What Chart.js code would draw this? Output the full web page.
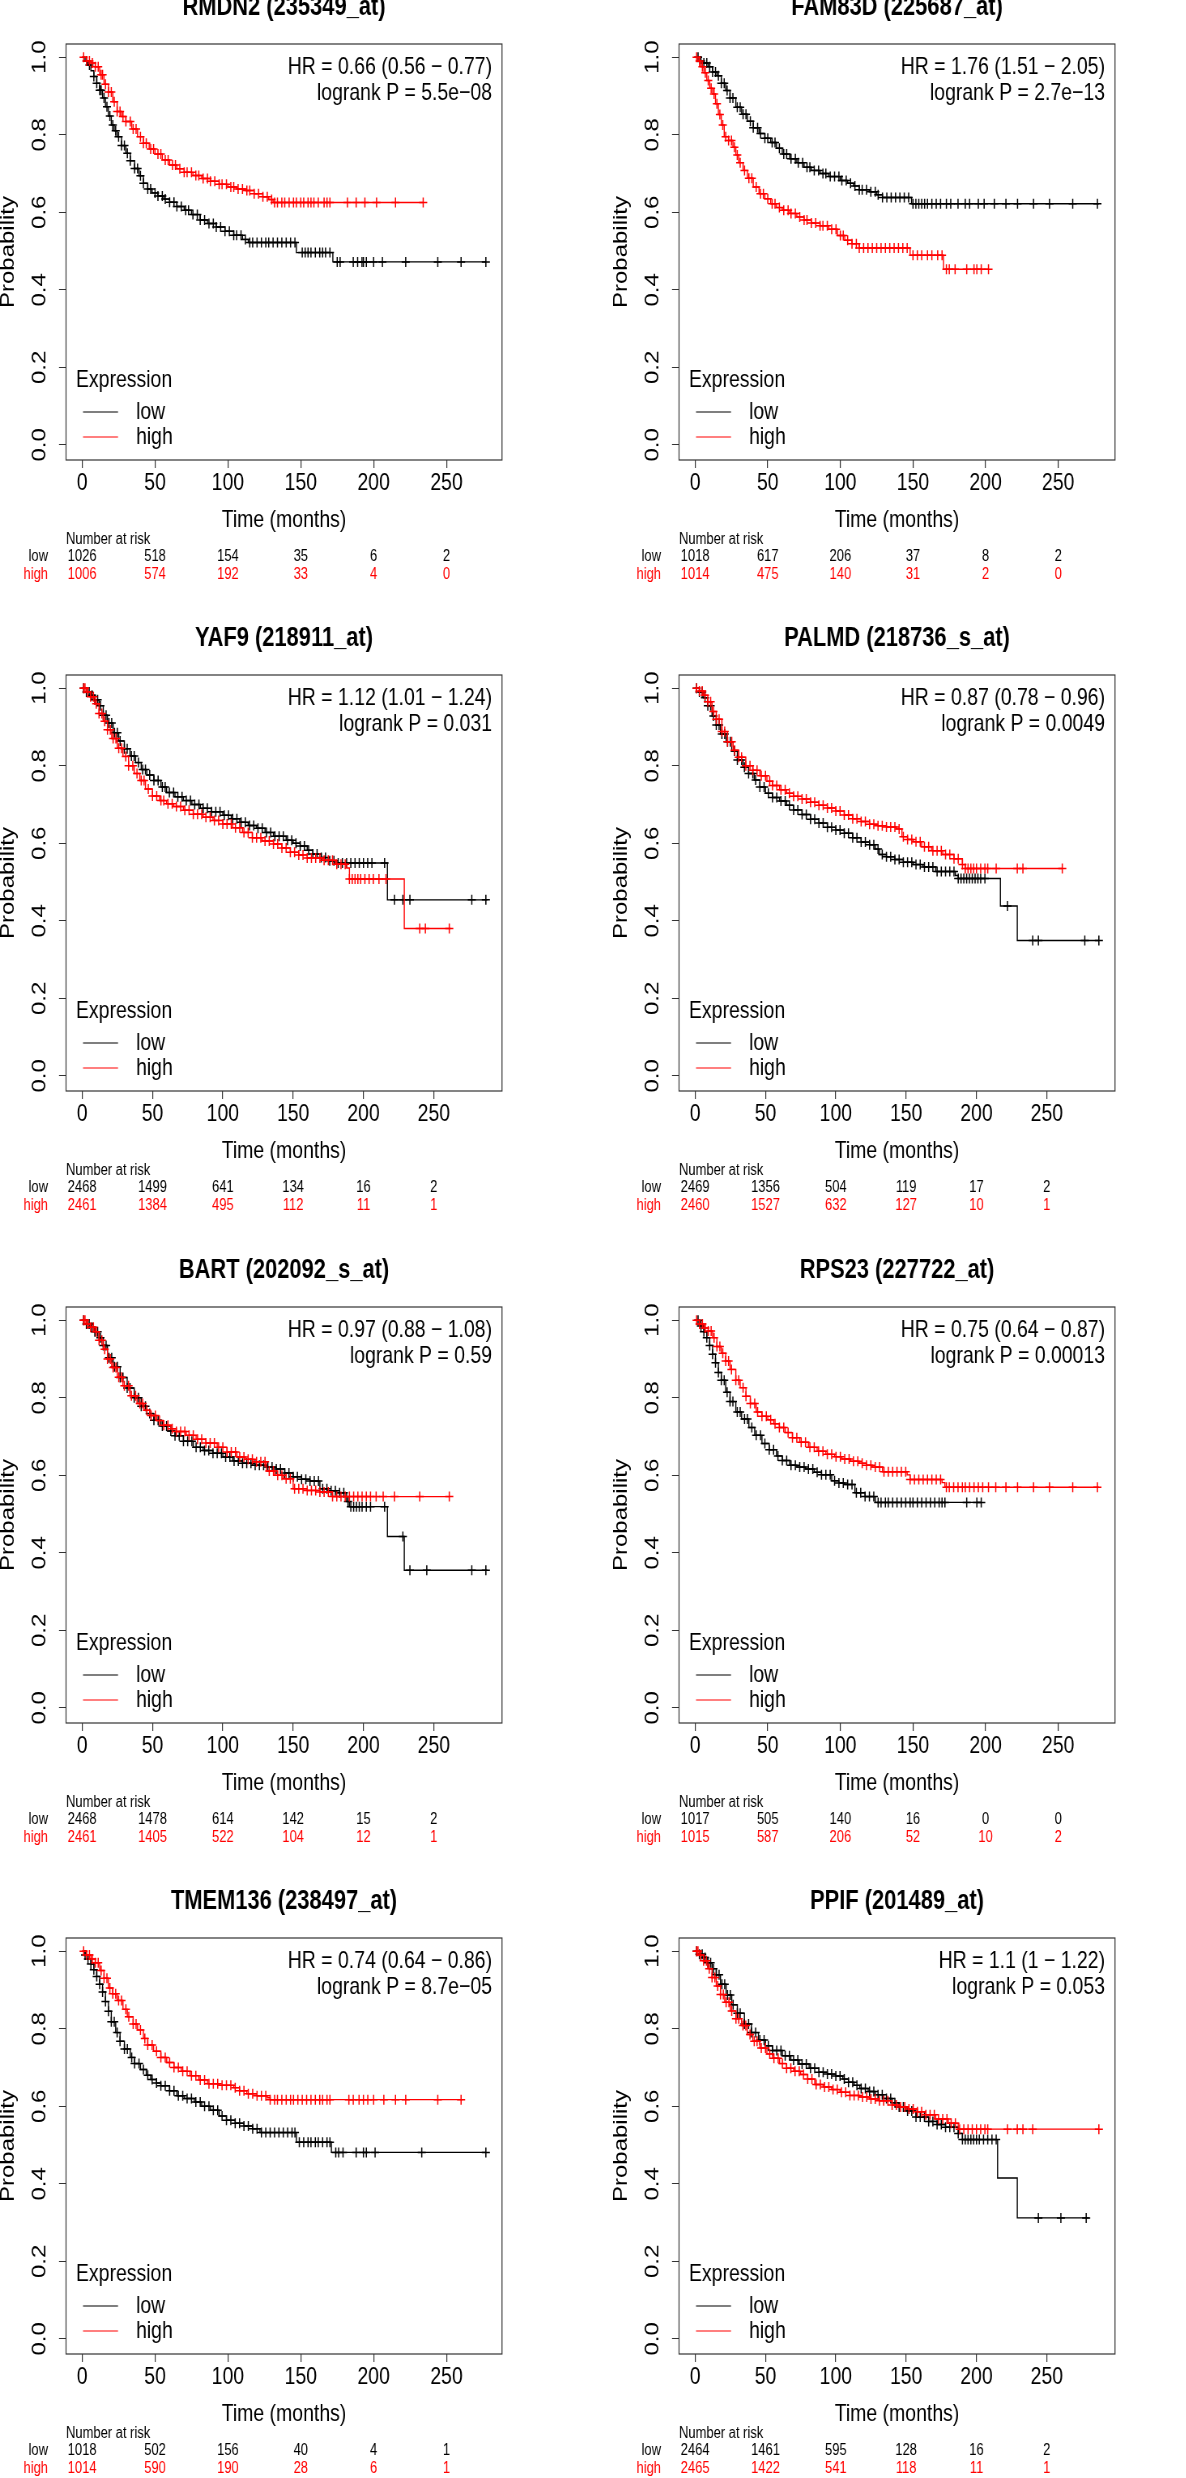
<!DOCTYPE html>
<html>
<head>
<meta charset="utf-8">
<script src="https://cdn.jsdelivr.net/npm/chart.js@4.4.1/dist/chart.umd.min.js"></script>
<style>
  html, body { margin: 0; padding: 0; background: #fff; }
  body { width: 1186px; height: 2478px; position: relative; overflow: hidden; }
  .panel { position: absolute; width: 573px; height: 600px; }
  .panel canvas { position: absolute; left: 0; top: 0; transform-origin: 0 0; transform: scaleX(0.81); }
</style>
</head>
<body>
<script>
// ---- data ----
var riskTimes = [0, 50, 100, 150, 200, 250];   // also the x tick labels
var probTicks = [0, 0.2, 0.4, 0.6, 0.8, 1.0];

// RMDN2 (235349_at)
var rmdn2LowT = [0,2,4,6,8,10,12,14,16,18,20,22,24,27,30,33,36,39,42,45,48,52,56,60,65,70,75,81,86,92,98,104,110,114,147,172,277];
var rmdn2LowS = [1,.99,.98,.965,.95,.933,.915,.895,.872,.848,.825,.81,.795,.772,.752,.733,.713,.694,.675,.66,.65,.642,.634,.626,.615,.605,.594,.58,.571,.562,.551,.541,.53,.522,.496,.472,.472];
var rmdn2LowC = [3,5,8,10,12,13,15,17,19,21,23,25,27,29,31,33,36,38,40,42,45,47,50,52,55,57,60,63,65,68,71,73,76,79,81,84,87,90,92,95,98,101,104,106,109,112,115,117,120,123,126,128,131,134,137,140,143,146,151,153,155,157,160,163,165,167,170,175,177,186,189,192,193,195,200,206,222,244,260,277];
var rmdn2HighT = [0,3,6,9,12,15,18,21,24,27,30,34,38,42,46,50,55,60,65,70,76,82,88,94,100,106,112,118,124,128,131,234];
var rmdn2HighS = [1,.99,.985,.975,.955,.93,.91,.885,.86,.847,.834,.815,.795,.778,.763,.75,.735,.722,.712,.703,.695,.687,.68,.672,.665,.66,.656,.648,.64,.633,.625,.625];
var rmdn2HighC = [1,3,5,7,9,11,13,14,16,18,20,22,24,26,28,30,33,35,37,40,42,44,47,49,52,54,57,59,62,64,67,70,72,75,78,80,83,86,88,91,94,96,99,102,104,107,110,113,115,118,121,124,127,130,132,134,137,139,142,145,147,150,152,155,157,159,162,166,168,170,182,188,194,202,215,234];
var rmdn2RiskLow = [1026, 518, 154, 35, 6, 2];
var rmdn2RiskHigh = [1006, 574, 192, 33, 4, 0];

// FAM83D (225687_at)
var fam83dLowT = [0,3,6,9,12,15,18,21,24,28,32,36,40,44,48,52,56,60,65,70,75,80,86,92,100,105,109,113,120,125,129,149,278];
var fam83dLowS = [1,.99,.985,.975,.962,.952,.933,.914,.895,.871,.853,.835,.818,.803,.791,.78,.765,.75,.738,.728,.716,.708,.7,.692,.682,.675,.668,.658,.653,.645,.638,.622,.622];
var fam83dLowC = [2,4,6,8,10,12,14,16,18,20,22,24,26,29,31,33,35,38,40,43,45,48,50,53,55,58,61,63,66,69,71,74,77,79,82,85,88,90,93,96,99,101,104,107,110,113,115,118,121,124,126,129,132,135,138,141,144,147,150,152,154,156,158,160,163,166,169,173,176,181,186,189,195,199,206,214,222,233,244,260,277];
var fam83dHighT = [0,2,4,6,8,10,12,14,16,18,20,23,26,28,30,33,36,40,44,48,52,56,60,65,70,75,80,86,92,98,103,108,113,148,171,202];
var fam83dHighS = [1,.99,.975,.96,.94,.92,.905,.88,.852,.825,.795,.785,.768,.748,.728,.708,.688,.665,.648,.635,.622,.612,.605,.597,.588,.58,.572,.565,.556,.54,.528,.519,.508,.489,.453,.453];
var fam83dHighC = [1,3,5,7,9,11,13,15,17,19,21,23,25,27,29,31,34,37,39,42,45,47,50,53,55,58,61,64,66,69,72,75,77,80,83,86,88,91,94,97,100,102,105,108,111,113,116,119,122,125,128,131,134,137,140,143,146,150,153,156,160,163,167,170,173,175,179,187,192,194,197,202];
var fam83dRiskLow = [1018, 617, 206, 37, 8, 2];
var fam83dRiskHigh = [1014, 475, 140, 31, 2, 0];

// YAF9 (218911_at)
var yaf9LowT = [0,3,6,9,12,15,18,22,26,30,34,38,42,46,51,56,60,66,72,78,84,92,100,106,112,118,124,130,136,145,150,155,160,164,170,175,181,217,288];
var yaf9LowS = [1,.99,.982,.97,.955,.93,.91,.885,.864,.844,.825,.808,.79,.776,.762,.745,.731,.72,.71,.7,.69,.681,.672,.663,.654,.646,.639,.628,.618,.608,.6,.593,.582,.572,.563,.555,.549,.454,.454];
var yaf9LowC = [1,3,5,7,9,11,13,15,17,19,21,23,25,27,30,32,35,37,40,43,45,48,51,54,57,59,62,65,68,71,74,77,80,83,86,89,92,95,98,101,104,107,110,113,116,119,122,125,128,131,134,137,140,143,146,149,152,155,158,161,164,167,170,173,176,179,182,185,188,191,194,197,200,203,206,215,222,228,233,277,287];
var yaf9HighT = [0,3,6,9,12,15,18,21,25,29,33,37,41,45,50,55,60,65,72,79,86,93,100,107,114,121,128,136,142,148,154,160,171,180,188,190,229,262];
var yaf9HighS = [1,.99,.978,.96,.935,.915,.893,.87,.845,.824,.8,.78,.762,.74,.722,.71,.702,.695,.685,.675,.667,.659,.65,.64,.628,.614,.606,.598,.588,.577,.57,.562,.556,.546,.536,.508,.38,.38];
var yaf9HighC = [1,2,4,6,8,10,12,14,16,18,20,22,24,26,28,31,33,36,39,42,44,47,50,53,56,58,61,64,67,70,73,76,79,82,85,88,91,94,97,100,103,106,109,112,115,118,121,124,127,130,133,136,139,142,145,148,151,154,157,160,163,166,169,172,175,178,181,184,187,190,192,194,196,198,201,204,207,211,216,240,244,261];
var yaf9RiskLow = [2468, 1499, 641, 134, 16, 2];
var yaf9RiskHigh = [2461, 1384, 495, 112, 11, 1];

// PALMD (218736_s_at)
var palmdLowT = [0,3,6,9,12,15,18,22,26,30,34,38,42,46,50,55,60,65,70,76,82,88,94,100,106,112,118,124,128,131,136,142,148,155,162,171,185,187,217,229,287];
var palmdLowS = [1,.99,.975,.955,.928,.905,.882,.862,.838,.815,.796,.78,.763,.745,.729,.718,.709,.698,.686,.674,.662,.652,.641,.634,.626,.614,.603,.596,.585,.571,.565,.558,.551,.545,.539,.527,.517,.509,.438,.349,.349];
var palmdLowC = [1,3,5,7,9,11,13,15,17,19,21,23,25,28,30,33,35,38,41,43,46,49,52,55,58,61,64,67,70,73,76,79,82,85,88,91,94,97,100,103,106,109,112,115,118,121,124,127,130,133,136,139,142,145,148,151,154,157,160,163,166,169,172,175,178,181,184,187,189,191,193,195,197,199,201,203,206,222,240,244,277,287];
var palmdHighT = [0,3,6,9,12,15,19,23,27,31,36,41,46,51,55,60,65,70,76,82,88,94,100,106,112,118,124,130,136,143,147,151,155,161,168,176,184,190,192,261];
var palmdHighS = [1,.993,.982,.965,.94,.92,.888,.862,.84,.822,.8,.788,.774,.76,.749,.738,.729,.721,.714,.706,.698,.691,.683,.673,.663,.656,.649,.645,.642,.637,.617,.61,.604,.591,.581,.571,.56,.545,.535,.535];
var palmdHighC = [1,3,5,7,9,11,13,15,17,19,21,23,26,28,31,33,36,39,41,44,47,50,53,55,58,61,64,67,70,73,76,79,82,85,88,91,94,97,100,103,106,109,112,115,118,121,124,127,130,133,136,139,142,145,148,151,154,157,160,163,166,169,172,175,178,181,184,187,190,192,194,196,198,200,203,206,208,214,229,233,261];
var palmdRiskLow = [2469, 1356, 504, 119, 17, 2];
var palmdRiskHigh = [2460, 1527, 632, 127, 10, 1];

// BART (202092_s_at)
var bartLowT = [0,3,6,9,12,15,18,22,27,32,37,42,46,51,56,61,66,72,79,86,93,100,107,114,121,131,138,144,150,156,162,169,175,181,188,190,217,229,288];
var bartLowS = [1,.99,.982,.97,.955,.935,.903,.88,.852,.825,.8,.778,.759,.742,.727,.714,.702,.688,.672,.664,.657,.647,.637,.631,.626,.621,.616,.606,.596,.59,.585,.565,.56,.555,.532,.519,.442,.355,.355];
var bartLowC = [1,3,5,7,9,11,13,15,17,19,21,23,25,27,29,32,34,37,40,42,45,48,51,54,57,60,63,66,69,72,75,78,81,84,87,90,93,96,99,102,105,108,111,114,117,120,123,126,129,132,135,138,141,144,147,150,153,156,159,162,165,168,171,174,177,180,183,186,189,191,193,195,197,199,202,205,215,228,233,245,277,287];
var bartHighT = [0,3,6,9,12,15,18,21,25,29,34,39,44,48,53,58,63,67,74,81,88,96,103,110,116,122,131,137,143,150,160,169,178,261];
var bartHighS = [1,.99,.982,.97,.948,.925,.9,.878,.853,.831,.805,.785,.768,.754,.741,.729,.72,.713,.703,.693,.683,.672,.66,.647,.641,.635,.611,.6,.591,.565,.561,.557,.545,.545];
var bartHighC = [1,2,4,6,8,10,12,14,16,18,20,22,24,26,28,30,33,35,38,41,43,46,49,52,55,58,61,64,67,70,73,76,79,82,85,88,91,94,97,100,103,106,109,112,115,118,121,124,127,130,133,136,139,142,145,148,151,154,157,160,163,166,169,172,175,178,181,184,187,190,193,196,199,202,205,209,214,222,240,261];
var bartRiskLow = [2468, 1478, 614, 142, 15, 2];
var bartRiskHigh = [2461, 1405, 522, 104, 12, 1];

// RPS23 (227722_at)
var rps23LowT = [0,3,6,8,10,12,14,16,18,21,24,28,32,37,41,46,51,56,60,65,70,76,82,87,94,99,103,110,117,124,197];
var rps23LowS = [1,.985,.97,.955,.935,.912,.89,.865,.845,.814,.79,.763,.745,.723,.703,.682,.666,.65,.638,.626,.621,.616,.608,.601,.586,.58,.576,.555,.545,.53,.53];
var rps23LowC = [2,4,6,8,10,12,14,16,18,20,22,24,26,29,31,34,36,39,42,45,48,51,54,57,60,63,66,69,72,75,78,81,84,87,90,93,96,99,102,105,108,111,114,117,120,123,126,128,131,133,136,139,142,145,148,150,153,156,159,162,165,168,170,172,187,194,197];
var rps23HighT = [0,3,6,9,12,15,18,21,24,28,31,35,38,42,46,50,54,58,62,67,72,78,84,90,96,101,107,113,118,122,129,146,148,170,172,278];
var rps23HighS = [1,.99,.98,.972,.955,.932,.915,.895,.873,.845,.826,.804,.785,.763,.752,.743,.733,.723,.71,.697,.685,.672,.662,.654,.648,.642,.636,.631,.626,.621,.609,.601,.589,.581,.569,.569];
var rps23HighC = [1,3,5,7,9,11,13,15,17,19,21,23,25,28,30,33,35,38,41,43,46,49,52,55,58,61,64,67,70,73,76,79,82,85,88,91,94,97,100,103,106,109,112,115,118,121,124,127,130,133,136,139,142,145,148,151,154,157,160,163,166,169,173,175,178,181,184,186,189,192,195,198,202,207,214,222,233,244,260,277];
var rps23RiskLow = [1017, 505, 140, 16, 0, 0];
var rps23RiskHigh = [1015, 587, 206, 52, 10, 2];

// TMEM136 (238497_at)
var tmem136LowT = [0,2,4,6,8,10,12,14,16,18,20,23,26,29,33,36,40,44,47,51,54,60,65,70,77,82,88,94,99,105,111,117,122,147,171,277];
var tmem136LowS = [1,.99,.98,.967,.952,.935,.915,.895,.87,.845,.818,.79,.768,.748,.726,.71,.695,.68,.669,.66,.653,.64,.627,.62,.611,.6,.59,.575,.564,.556,.549,.542,.532,.507,.481,.481];
var tmem136LowC = [2,4,6,8,10,12,14,16,18,20,22,24,26,29,31,34,36,39,42,45,48,51,54,57,60,63,66,69,72,75,78,81,84,87,90,93,96,99,102,105,108,111,114,117,120,123,126,129,132,135,138,141,144,146,149,152,155,157,160,162,165,168,170,174,176,179,188,193,195,201,233,277];
var tmem136HighT = [0,3,6,9,12,15,18,21,24,28,31,35,38,42,45,49,54,58,63,68,74,80,86,94,104,108,113,120,127,129,261];
var tmem136HighS = [1,.99,.98,.97,.95,.93,.905,.89,.873,.85,.831,.812,.797,.775,.758,.742,.726,.713,.7,.69,.679,.668,.658,.654,.648,.64,.632,.627,.622,.617,.617];
var tmem136HighC = [1,3,5,7,9,11,13,15,17,19,21,23,25,27,30,32,35,37,40,43,45,48,51,54,57,60,63,66,69,72,75,78,81,84,87,90,93,96,99,102,105,108,111,114,117,120,123,126,129,132,134,137,140,143,145,148,151,154,157,160,163,165,168,170,183,186,190,193,196,200,207,215,222,244,260];
var tmem136RiskLow = [1018, 502, 156, 40, 4, 1];
var tmem136RiskHigh = [1014, 590, 190, 28, 6, 1];

// PPIF (201489_at)
var ppifLowT = [0,3,6,9,12,15,18,22,26,30,35,40,45,50,55,62,68,74,81,88,94,100,105,109,113,117,123,128,134,140,145,150,157,166,172,178,187,190,215,229,280];
var ppifLowS = [1,.992,.984,.97,.955,.939,.915,.887,.862,.84,.812,.79,.771,.756,.744,.73,.719,.709,.698,.688,.683,.678,.67,.662,.654,.646,.638,.63,.62,.609,.598,.588,.572,.561,.553,.546,.53,.514,.415,.312,.312];
var ppifLowC = [1,3,5,7,9,11,13,15,17,19,21,23,25,27,30,32,35,38,40,43,46,49,52,55,58,61,64,67,70,73,76,79,82,85,88,91,94,97,100,103,106,109,112,115,118,121,124,127,130,133,136,139,142,145,148,151,154,157,160,163,166,169,172,175,178,181,184,187,190,192,194,196,198,200,202,205,208,211,214,244,260,278];
var ppifHighT = [0,3,6,9,12,15,18,21,25,29,33,37,41,46,51,55,60,65,70,75,80,85,91,97,103,110,117,124,131,140,146,152,158,164,171,180,187,287];
var ppifHighS = [1,.99,.975,.955,.932,.91,.888,.868,.846,.826,.808,.785,.768,.75,.735,.724,.71,.698,.69,.682,.67,.656,.65,.643,.636,.628,.624,.619,.614,.603,.598,.593,.586,.578,.567,.556,.541,.541];
var ppifHighC = [1,2,4,6,8,10,12,14,16,18,20,22,24,26,29,31,34,36,39,42,44,47,50,53,56,59,62,65,68,71,74,77,80,83,86,89,92,95,98,101,104,107,110,113,116,119,122,125,128,131,134,137,140,143,146,149,152,155,158,161,164,167,170,173,176,179,182,185,188,191,194,197,200,203,206,208,222,229,233,240,287];
var ppifRiskLow = [2464, 1461, 595, 128, 16, 2];
var ppifRiskHigh = [2465, 1422, 541, 118, 11, 1];

var titles = ['RMDN2 (235349_at)', 'FAM83D (225687_at)', 'YAF9 (218911_at)', 'PALMD (218736_s_at)',
              'BART (202092_s_at)', 'RPS23 (227722_at)', 'TMEM136 (238497_at)', 'PPIF (201489_at)'];
var hrTexts = ['HR = 0.66 (0.56 \u2212 0.77)', 'HR = 1.76 (1.51 \u2212 2.05)', 'HR = 1.12 (1.01 \u2212 1.24)', 'HR = 0.87 (0.78 \u2212 0.96)',
               'HR = 0.97 (0.88 \u2212 1.08)', 'HR = 0.75 (0.64 \u2212 0.87)', 'HR = 0.74 (0.64 \u2212 0.86)', 'HR = 1.1 (1 \u2212 1.22)'];
var pTexts = ['logrank P = 5.5e\u221208', 'logrank P = 2.7e\u221213', 'logrank P = 0.031', 'logrank P = 0.0049',
              'logrank P = 0.59', 'logrank P = 0.00013', 'logrank P = 8.7e\u221205', 'logrank P = 0.053'];
// longest follow-up in each panel (x axis runs 4% past it on both sides)
var xLimits = [277, 278, 287, 287, 287, 278, 277, 287];

var panels = [
  [rmdn2LowT, rmdn2LowS, rmdn2LowC, rmdn2HighT, rmdn2HighS, rmdn2HighC, rmdn2RiskLow, rmdn2RiskHigh],
  [fam83dLowT, fam83dLowS, fam83dLowC, fam83dHighT, fam83dHighS, fam83dHighC, fam83dRiskLow, fam83dRiskHigh],
  [yaf9LowT, yaf9LowS, yaf9LowC, yaf9HighT, yaf9HighS, yaf9HighC, yaf9RiskLow, yaf9RiskHigh],
  [palmdLowT, palmdLowS, palmdLowC, palmdHighT, palmdHighS, palmdHighC, palmdRiskLow, palmdRiskHigh],
  [bartLowT, bartLowS, bartLowC, bartHighT, bartHighS, bartHighC, bartRiskLow, bartRiskHigh],
  [rps23LowT, rps23LowS, rps23LowC, rps23HighT, rps23HighS, rps23HighC, rps23RiskLow, rps23RiskHigh],
  [tmem136LowT, tmem136LowS, tmem136LowC, tmem136HighT, tmem136HighS, tmem136HighC, tmem136RiskLow, tmem136RiskHigh],
  [ppifLowT, ppifLowS, ppifLowC, ppifHighT, ppifHighS, ppifHighC, ppifRiskLow, ppifRiskHigh]
];

// ---- drawing ----
var SQ = 0.81;               // the original figure is squeezed sideways
var PANEL_W = 573, PANEL_H = 600;
var CANVAS_W = Math.round(PANEL_W / SQ);
var BOX_TOP = 60, BOX_BOTTOM = 476, XAXIS_H = 40;
var FONT = '"Liberation Sans", Arial, Helvetica, sans-serif';
var RED = '#ff0000', BLACK = '#000000';

function curve(times, surv) {
  return times.map(function (t, i) { return { x: t, y: surv[i] }; });
}

// censor marks sit on the step curve
function censorPoints(times, surv, cens) {
  return cens.map(function (c) {
    var v = surv[0];
    for (var i = 0; i < times.length && times[i] <= c; i++) v = surv[i];
    return { x: c, y: v };
  });
}

function kmText(k, risk) {
  return {
    id: 'kmText',
    afterDraw: function (chart) {
      var ctx = chart.ctx, a = chart.chartArea, xs = chart.scales.x, ys = chart.scales.y;
      var mid = (a.left + a.right) / 2;
      ctx.save();
      ctx.strokeStyle = '#333';
      ctx.lineWidth = 1.2;
      ctx.strokeRect(a.left, a.top, a.right - a.left, a.bottom - a.top);

      ctx.fillStyle = BLACK;
      ctx.textAlign = 'center';
      ctx.textBaseline = 'middle';
      ctx.font = 'bold 27px ' + FONT;
      ctx.fillText(titles[k], mid, a.top - 36);

      ctx.font = '24px ' + FONT;
      ys.ticks.forEach(function (t) {
        ctx.save();
        ctx.translate(a.left - 26 / SQ, ys.getPixelForValue(t.value));
        ctx.rotate(-Math.PI / 2);
        ctx.fillText(t.value.toFixed(1), 0, 0);
        ctx.restore();
      });
      ctx.save();
      ctx.translate(a.left - 58 / SQ, (a.top + a.bottom) / 2);
      ctx.rotate(-Math.PI / 2);
      ctx.fillText('Probability', 0, 0);
      ctx.restore();
      ctx.fillText('Time (months)', mid, a.bottom + 60);

      ctx.textAlign = 'right';
      ctx.fillText(hrTexts[k], a.right - 10 / SQ, a.top + 23);
      ctx.fillText(pTexts[k], a.right - 10 / SQ, a.top + 49);

      // legend
      ctx.textAlign = 'left';
      ctx.fillText('Expression', a.left + 10 / SQ, a.bottom - 80);
      [['low', BLACK, 48], ['high', RED, 23]].forEach(function (e) {
        ctx.strokeStyle = e[1];
        ctx.beginPath();
        ctx.moveTo(a.left + 17 / SQ, a.bottom - e[2]);
        ctx.lineTo(a.left + 52 / SQ, a.bottom - e[2]);
        ctx.stroke();
        ctx.fillStyle = BLACK;
        ctx.fillText(e[0], a.left + 70 / SQ, a.bottom - e[2]);
      });

      // number at risk
      ctx.font = '16px ' + FONT;
      ctx.fillStyle = BLACK;
      ctx.fillText('Number at risk', a.left, a.bottom + 80);
      ctx.textAlign = 'right';
      ctx.fillText('low', a.left - 18 / SQ, a.bottom + 97);
      ctx.fillStyle = RED;
      ctx.fillText('high', a.left - 18 / SQ, a.bottom + 115);
      ctx.textAlign = 'center';
      riskTimes.forEach(function (t, j) {
        var px = xs.getPixelForValue(t);
        ctx.fillStyle = BLACK;
        ctx.fillText(String(risk[0][j]), px, a.bottom + 97);
        ctx.fillStyle = RED;
        ctx.fillText(String(risk[1][j]), px, a.bottom + 115);
      });
      ctx.restore();
    }
  };
}

function makePanel(k) {
  var d = panels[k];
  var col = k % 2, row = Math.floor(k / 2);
  var div = document.createElement('div');
  div.className = 'panel';
  div.style.left = (col * 613) + 'px';
  div.style.top = (44 + row * 631.3 - BOX_TOP) + 'px';
  var canvas = document.createElement('canvas');
  canvas.width = CANVAS_W;
  canvas.height = PANEL_H;
  div.appendChild(canvas);
  document.body.appendChild(div);

  var xMax = xLimits[k];
  new Chart(canvas.getContext('2d'), {
    type: 'line',
    data: {
      datasets: [
        { label: 'high censored', type: 'scatter', data: censorPoints(d[3], d[4], d[5]),
          pointStyle: 'cross', pointRadius: 5, borderColor: RED, borderWidth: 1.5, order: 1 },
        { label: 'high', data: curve(d[3], d[4]), stepped: 'before', borderColor: RED,
          borderWidth: 1.4, pointRadius: 0, fill: false, order: 2 },
        { label: 'low censored', type: 'scatter', data: censorPoints(d[0], d[1], d[2]),
          pointStyle: 'cross', pointRadius: 5, borderColor: BLACK, borderWidth: 1.5, order: 3 },
        { label: 'low', data: curve(d[0], d[1]), stepped: 'before', borderColor: BLACK,
          borderWidth: 1.4, pointRadius: 0, fill: false, order: 4 }
      ]
    },
    options: {
      responsive: false,
      animation: false,
      devicePixelRatio: 1,
      layout: { padding: { left: 66 / SQ, right: CANVAS_W - 502 / SQ, top: BOX_TOP, bottom: PANEL_H - BOX_BOTTOM - XAXIS_H } },
      plugins: { legend: { display: false }, tooltip: { enabled: false } },
      scales: {
        x: {
          type: 'linear',
          min: -0.04 * xMax,
          max: 1.04 * xMax,
          afterFit: function (s) { s.height = XAXIS_H; },
          afterBuildTicks: function (s) { s.ticks = riskTimes.map(function (v) { return { value: v }; }); },
          border: { display: false },
          grid: { drawOnChartArea: false, tickLength: 8, color: '#333', lineWidth: 1.2 },
          ticks: { autoSkip: false, maxRotation: 0, padding: 1, color: BLACK, font: { family: FONT, size: 24 } }
        },
        y: {
          type: 'linear',
          min: -0.039,
          max: 1.034,
          afterFit: function (s) { s.width = 0; },
          afterBuildTicks: function (s) { s.ticks = probTicks.map(function (v) { return { value: v }; }); },
          border: { display: false },
          grid: { drawOnChartArea: false, tickLength: 7 / SQ, color: '#333', lineWidth: 1 },
          ticks: { display: false }
        }
      }
    },
    plugins: [kmText(k, [d[6], d[7]])]
  });
}

for (var k = 0; k < panels.length; k++) makePanel(k);
</script>
</body>
</html>
